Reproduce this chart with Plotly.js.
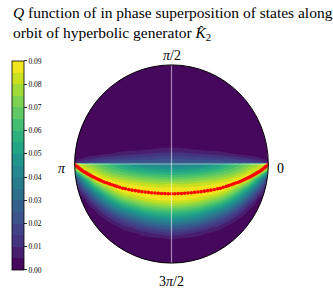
<!DOCTYPE html>
<html>
<head>
<meta charset="utf-8">
<script src="https://cdn.plot.ly/plotly-3.0.1.min.js"></script>
<style>html,body{margin:0;padding:0;background:#fff;}#chart{width:333px;height:290px;}</style>
</head>
<body>
<div id="chart"></div>
<script>
// ---- data ----
// horizontal disk coordinate of grid columns
const uCols = [-1.0,-0.9,-0.8,-0.7,-0.6,-0.5,-0.4,-0.3,-0.2,-0.1,0.0,0.1,0.2,0.3,0.4,0.5,0.6,0.7,0.8,0.9,1.0];
// vertical disk coordinate of grid rows
const vRows = [-0.85,-0.80,-0.75,-0.70,-0.65,-0.60,-0.55,-0.50,-0.45,-0.40,-0.35,-0.30,-0.25,-0.20,-0.15,-0.10,-0.05,0.0,0.005,0.05,0.10,0.15,0.20];
// Q function values (rows follow vRows, columns follow uCols)
const qValues = [
 [0,0,0,0,0,0,0,0,0,0,0,0,0,0,0,0,0,0,0,0,0],
 [0,0,0,0,0,0,0,0,0.001,0.001,0.002,0.001,0.001,0,0,0,0,0,0,0,0],
 [0,0,0,0,0,0,0.001,0.003,0.004,0.005,0.006,0.005,0.004,0.003,0.001,0,0,0,0,0,0],
 [0,0,0,0,0.001,0.002,0.004,0.007,0.010,0.012,0.013,0.012,0.010,0.007,0.004,0.002,0.001,0,0,0,0],
 [0,0,0,0.001,0.002,0.006,0.010,0.015,0.019,0.022,0.024,0.022,0.019,0.015,0.010,0.006,0.002,0.001,0,0,0],
 [0,0,0,0.002,0.006,0.013,0.019,0.026,0.031,0.034,0.036,0.034,0.031,0.026,0.019,0.013,0.006,0.002,0,0,0],
 [0,0,0,0.005,0.013,0.022,0.030,0.038,0.043,0.046,0.047,0.046,0.043,0.038,0.030,0.022,0.013,0.005,0,0,0],
 [0,0,0.002,0.011,0.023,0.034,0.042,0.050,0.055,0.057,0.058,0.057,0.055,0.050,0.042,0.034,0.023,0.011,0.002,0,0],
 [0,0,0.006,0.020,0.035,0.047,0.055,0.062,0.066,0.068,0.069,0.068,0.066,0.062,0.055,0.047,0.035,0.020,0.006,0,0],
 [0,0.001,0.013,0.032,0.048,0.060,0.067,0.073,0.077,0.079,0.080,0.079,0.077,0.073,0.067,0.060,0.048,0.032,0.013,0.001,0],
 [0,0.005,0.024,0.045,0.061,0.072,0.078,0.083,0.086,0.088,0.088,0.088,0.086,0.083,0.078,0.072,0.061,0.045,0.024,0.005,0],
 [0,0.012,0.037,0.058,0.073,0.083,0.087,0.089,0.090,0.090,0.090,0.090,0.090,0.089,0.087,0.083,0.073,0.058,0.037,0.012,0],
 [0,0.024,0.052,0.071,0.084,0.090,0.089,0.089,0.088,0.087,0.087,0.087,0.088,0.089,0.089,0.090,0.084,0.071,0.052,0.024,0],
 [0.004,0.040,0.068,0.085,0.089,0.087,0.084,0.082,0.080,0.079,0.080,0.079,0.080,0.082,0.084,0.087,0.089,0.085,0.068,0.040,0.004],
 [0.015,0.055,0.086,0.087,0.082,0.078,0.075,0.072,0.070,0.069,0.068,0.069,0.070,0.072,0.075,0.078,0.082,0.087,0.086,0.055,0.015],
 [0.040,0.082,0.086,0.078,0.072,0.068,0.065,0.062,0.060,0.059,0.058,0.059,0.060,0.062,0.065,0.068,0.072,0.078,0.086,0.082,0.040],
 [0.075,0.086,0.078,0.070,0.064,0.059,0.055,0.052,0.050,0.049,0.048,0.049,0.050,0.052,0.055,0.059,0.064,0.070,0.078,0.086,0.075],
 [0.090,0.077,0.070,0.063,0.057,0.051,0.046,0.042,0.040,0.039,0.038,0.039,0.040,0.042,0.046,0.051,0.057,0.063,0.070,0.077,0.090],
 [0.012,0.018,0.022,0.024,0.025,0.026,0.027,0.027,0.027,0.027,0.027,0.027,0.027,0.027,0.027,0.026,0.025,0.024,0.022,0.018,0.012],
 [0.003,0.007,0.011,0.014,0.016,0.017,0.018,0.019,0.019,0.020,0.020,0.020,0.019,0.019,0.018,0.017,0.016,0.014,0.011,0.007,0.003],
 [0,0.001,0.002,0.004,0.006,0.008,0.009,0.010,0.011,0.012,0.012,0.012,0.011,0.010,0.009,0.008,0.006,0.004,0.002,0.001,0],
 [0,0,0,0,0.001,0.002,0.003,0.004,0.005,0.006,0.006,0.006,0.005,0.004,0.003,0.002,0.001,0,0,0,0],
 [0,0,0,0,0,0,0,0.001,0.001,0.002,0.002,0.002,0.001,0.001,0,0,0,0,0,0,0]
];
// orbit points (red dots)
const orbitU = [-1.0,-0.99,-0.98,-0.97,-0.96,-0.95,-0.935,-0.92,-0.905,-0.89,-0.875,-0.86,-0.845,-0.83,-0.81,-0.79,-0.77,-0.75,-0.73,-0.71,-0.69,-0.665,-0.64,-0.615,-0.59,-0.565,-0.535,-0.505,-0.476,-0.442,-0.408,-0.374,-0.34,-0.306,-0.272,-0.238,-0.204,-0.17,-0.136,-0.102,-0.068,-0.034,0.0,
  0.034,0.068,0.102,0.136,0.17,0.204,0.238,0.272,0.306,0.34,0.374,0.408,0.442,0.476,0.505,0.535,0.565,0.59,0.615,0.64,0.665,0.69,0.71,0.73,0.75,0.77,0.79,0.81,0.83,0.845,0.86,0.875,0.89,0.905,0.92,0.935,0.95,0.96,0.97,0.98,0.99,1.0];
const orbitV = [0,-0.011,-0.021,-0.030,-0.038,-0.045,-0.057,-0.068,-0.078,-0.086,-0.095,-0.104,-0.112,-0.120,-0.130,-0.140,-0.149,-0.158,-0.167,-0.176,-0.184,-0.192,-0.201,-0.210,-0.218,-0.226,-0.235,-0.244,-0.250,-0.257,-0.264,-0.269,-0.274,-0.279,-0.2825,-0.286,-0.2895,-0.293,-0.2955,-0.297,-0.2985,-0.2997,-0.300,
  -0.2997,-0.2985,-0.297,-0.2955,-0.293,-0.2895,-0.286,-0.2825,-0.279,-0.274,-0.269,-0.264,-0.257,-0.250,-0.244,-0.235,-0.226,-0.218,-0.210,-0.201,-0.192,-0.184,-0.176,-0.167,-0.158,-0.149,-0.140,-0.130,-0.120,-0.112,-0.104,-0.095,-0.086,-0.078,-0.068,-0.057,-0.045,-0.038,-0.030,-0.021,-0.011,0];
// angular tick labels
const angleTicks = [0, 90, 180, 270];
const angleLabels = ['0', '<i>π</i>/2', '<i>π</i>', '3<i>π</i>/2'];
// colorbar ticks
const cbTickVals = [0,0.01,0.02,0.03,0.04,0.05,0.06,0.07,0.08,0.09];
const cbTickText = ['0.00','0.01','0.02','0.03','0.04','0.05','0.06','0.07','0.08','0.09'];
const titleText = '<i>Q</i> function of in phase superposition of states along<br>orbit of hyperbolic generator <i>K̂</i><sub>2</sub>';

// ---- style ----
const FONT = 'Liberation Serif, Times New Roman, serif';
const bandColors = ['#46085c','#481e6f','#45347f','#414287','#3b528b','#34608d','#2e6f8e','#297b8e','#23898e','#1f958b','#21a585','#2cb17e','#42be71','#5ec962','#7dd250','#a0da39','#c8e020','#eee51c'];
// contour fill colour scale (one colour per band)
const cscale = bandColors.map((c, i) => [i / (bandColors.length - 1), c]);
// stepped colour scale for the colour bar (0 .. 0.09, 18 bands)
const stepScale = [];
bandColors.forEach((c, i) => {
  stepScale.push([i / bandColors.length, c]);
  stepScale.push([(i + 1) / bandColors.length, c]);
});

const R = 1.1;
const PLOT_PX = 217.8, RAD_PX = 99;
const k = 0.5523;
const circlePath = `M 1 0 C 1 ${k} ${k} 1 0 1 C ${-k} 1 -1 ${k} -1 0 C -1 ${-k} ${-k} -1 0 -1 C ${k} -1 1 ${-k} 1 0 Z`;
const maskPath = `M -1.3 -1.3 L 1.3 -1.3 L 1.3 1.3 L -1.3 1.3 Z ` + circlePath;

const traces = [
  {
    type: 'contour', x: uCols, y: vRows, z: qValues,
    autocontour: false,
    contours: {start: 0.005, end: 0.085, size: 0.005, coloring: 'fill', showlines: false},
    line: {width: 0},
    colorscale: cscale,
    showscale: false,
    hoverinfo: 'skip'
  },
  {
    type: 'scatter', mode: 'markers', x: orbitU, y: orbitV,
    marker: {color: '#ff0000', size: 3.6}, hoverinfo: 'skip', showlegend: false
  },
  {
    // carries only the colour bar of the Q values
    type: 'scatter', mode: 'markers', x: [null], y: [null], showlegend: false, hoverinfo: 'skip',
    marker: {
      color: [0], cmin: 0, cmax: 0.09, colorscale: stepScale, showscale: true,
      colorbar: {
        x: (6 - 60.1) / PLOT_PX, xanchor: 'left', xpad: 0,
        y: (272.9 - 165.4) / PLOT_PX, yanchor: 'middle', ypad: 0,
        thickness: 12, thicknessmode: 'pixels',
        len: 209 / PLOT_PX, lenmode: 'fraction',
        outlinewidth: 0.8, outlinecolor: '#000',
        ticks: 'outside', ticklen: 3, tickwidth: 0.8, tickcolor: '#000',
        tickvals: cbTickVals, ticktext: cbTickText,
        tickfont: {family: FONT, size: 7.5, color: '#000'}
      }
    }
  }
];

const annotations = angleTicks.map((a, i) => {
  const t = a * Math.PI / 180;
  const rr = 1.13 * RAD_PX / PLOT_PX;
  return {
    x: 0.5 + rr * Math.cos(t), y: 0.5 + 1.01 * rr * Math.sin(t) - 4.5 / PLOT_PX, xref: 'paper', yref: 'paper',
    text: angleLabels[i], showarrow: false,
    font: {family: FONT, size: 14, color: '#000'},
    xanchor: 'center', yanchor: 'middle'
  };
});
annotations.push({
  x: (5 - 60.1) / PLOT_PX, y: (272.9 - 2) / PLOT_PX, xref: 'paper', yref: 'paper',
  xanchor: 'left', yanchor: 'top', align: 'left', showarrow: false,
  text: titleText,
  font: {family: FONT, size: 15.5, color: '#000'}
});

const layout = {
  width: 333, height: 290,
  margin: {l: 60.1, r: 54.9, t: 55.1, b: 17.1, pad: 0},
  paper_bgcolor: '#ffffff', plot_bgcolor: bandColors[0],
  showlegend: false,
  xaxis: {range: [-R, R], visible: false, fixedrange: true},
  yaxis: {range: [-R, R], visible: false, fixedrange: true},
  shapes: [
    {type: 'line', xref: 'x', yref: 'y', x0: -1, x1: 1, y0: 0, y1: 0, line: {color: 'rgba(255,255,255,0.5)', width: 1.2}, layer: 'above'},
    {type: 'line', xref: 'x', yref: 'y', x0: 0, x1: 0, y0: -1, y1: 1, line: {color: 'rgba(255,255,255,0.5)', width: 1.2}, layer: 'above'},
    {type: 'path', xref: 'x', yref: 'y', path: maskPath, fillcolor: '#ffffff', fillrule: 'evenodd', line: {width: 0}, layer: 'above'},
    {type: 'circle', xref: 'x', yref: 'y', x0: -1, x1: 1, y0: -1, y1: 1, line: {color: '#000', width: 1}, layer: 'above'}
  ],
  annotations: annotations
};

Plotly.newPlot('chart', traces, layout, {displayModeBar: false, staticPlot: true});
</script>
</body>
</html>
